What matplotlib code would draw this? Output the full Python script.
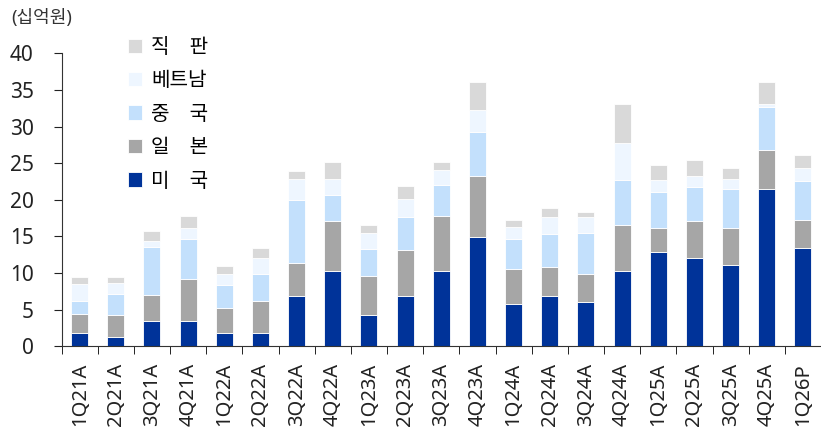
import numpy as np
import matplotlib
matplotlib.use("Agg")
import matplotlib.pyplot as plt

plt.rcParams['font.family'] = ['Noto Sans', 'Noto Sans CJK KR', 'DejaVu Sans']

## quarters and sales by region (십억원)
quarters = ["1Q21A", "2Q21A", "3Q21A", "4Q21A", "1Q22A", "2Q22A", "3Q22A", "4Q22A",
            "1Q23A", "2Q23A", "3Q23A", "4Q23A", "1Q24A", "2Q24A", "3Q24A", "4Q24A",
            "1Q25A", "2Q25A", "3Q25A", "4Q25A", "1Q26P"]
usa     = [1.8, 1.2, 3.5, 3.4, 1.8, 1.8, 6.8, 10.2, 4.3, 6.9, 10.3, 14.9, 5.7, 6.8, 6.0, 10.3, 12.8, 12.0, 11.1, 21.5, 13.4]
japan   = [2.6, 3.1, 3.5, 5.8, 3.4, 4.4, 4.6, 6.9, 5.3, 6.3, 7.5, 8.4, 4.8, 4.0, 3.9, 6.2, 3.3, 5.1, 5.0, 5.3, 3.9]
china   = [1.7, 2.8, 6.5, 5.5, 3.1, 3.6, 8.5, 3.6, 3.7, 4.5, 4.2, 6.0, 4.2, 4.5, 5.6, 6.2, 4.9, 4.6, 5.4, 5.8, 5.3]
vietnam = [2.4, 1.5, 0.9, 1.5, 1.5, 2.3, 2.9, 2.1, 2.2, 2.4, 2.1, 3.0, 1.6, 2.3, 2.1, 5.0, 1.7, 1.5, 1.3, 0.5, 1.7]
direct  = [1.0, 0.9, 1.3, 1.6, 1.1, 1.3, 1.1, 2.4, 1.0, 1.8, 1.0, 3.8, 0.9, 1.3, 0.7, 5.4, 2.0, 2.2, 1.6, 3.0, 1.8]

series = [("미\u3000국", usa, "#003399"),
          ("일\u3000본", japan, "#a6a6a6"),
          ("중\u3000국", china, "#c3e0fc"),
          ("베트남", vietnam, "#eef6ff"),
          ("직\u3000판", direct, "#d9d9d9")]

fig = plt.figure(figsize=(8.21, 4.30), dpi=100)
ax = fig.add_axes([0.075, 0.195, 0.925, 0.681])

x = np.arange(len(quarters))
bottom = np.zeros(len(quarters))
for name, vals, col in series:
    ax.bar(x, vals, 0.47, bottom=bottom, color=col, edgecolor="white", linewidth=0.6, label=name)
    bottom += np.array(vals)

ax.set_xlim(-0.5, len(quarters) - 0.5)
ax.set_ylim(0, 40)
ax.set_yticks(np.arange(0, 41, 5))
ax.tick_params(axis="y", labelsize=15, length=6, pad=14, direction="out", colors="#222222")

# category labels centered, tick marks on the boundaries
ax.set_xticks(x)
ax.set_xticklabels(quarters, rotation=90, fontsize=14.5, color="#222222")
ax.tick_params(axis="x", length=0, pad=12)
ax.set_xticks(np.arange(-0.5, len(quarters)), minor=True)
ax.tick_params(axis="x", which="minor", length=6, direction="out")

for s in ["top", "right"]:
    ax.spines[s].set_visible(False)
ax.spines["left"].set_color("#333333")
ax.spines["bottom"].set_color("#333333")

h, l = ax.get_legend_handles_labels()
ax.legend(h[::-1], l[::-1], loc="upper left", bbox_to_anchor=(0.136, 0.95), bbox_transform=fig.transFigure,
          frameon=False, fontsize=14.5, handlelength=0.7, handleheight=0.7, handletextpad=0.45,
          labelspacing=0.67, borderpad=0.3)

fig.text(0.014, 0.957, "(십억원)", fontsize=13, color="#333333", va="center")

fig.savefig("out.png", dpi=100)
